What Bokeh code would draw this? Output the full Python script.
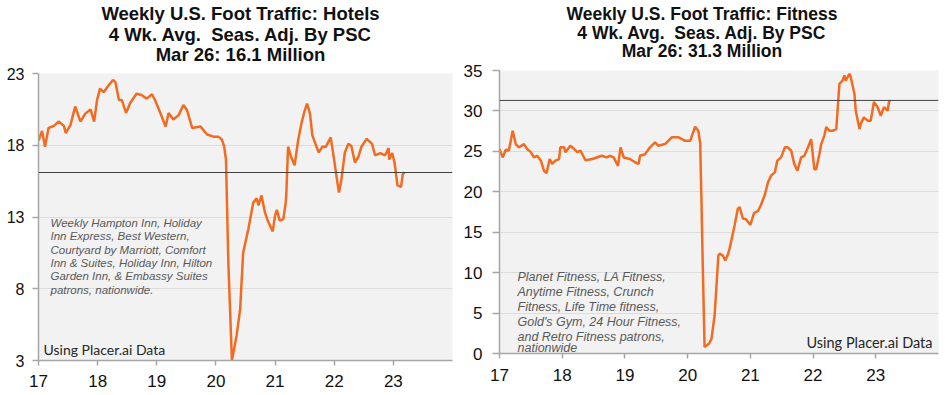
from bokeh.plotting import figure
from bokeh.models import Range1d, FixedTicker, Span, Label
from bokeh.layouts import row, column
from bokeh.embed import file_html
from bokeh.resources import INLINE

# ---------------- data ----------------
years = [17, 18, 19, 20, 21, 22, 23]

hotel_title = ["Weekly U.S. Foot Traffic: Hotels",
               "4 Wk. Avg.\u00a0 Seas. Adj. By PSC",
               "Mar 26: 16.1 Million"]
hotel_ticks = [3, 8, 13, 18, 23]
hotel_latest = 16.1
hotel_year = [17.00, 17.06, 17.11, 17.17, 17.26, 17.34, 17.43, 17.46, 17.54, 17.62,
              17.71, 17.79, 17.88, 17.94, 17.99, 18.04, 18.10, 18.19, 18.26, 18.30,
              18.36, 18.41, 18.48, 18.55, 18.66, 18.74, 18.83, 18.92, 18.97, 19.06,
              19.15, 19.20, 19.28, 19.37, 19.45, 19.51, 19.60, 19.74, 19.85, 19.96,
              20.04, 20.10, 20.14, 20.17, 20.21, 20.27, 20.35, 20.41, 20.46, 20.55,
              20.63, 20.69, 20.72, 20.77, 20.83, 20.88, 20.96, 21.00, 21.03, 21.08,
              21.14, 21.18, 21.19, 21.22, 21.27, 21.33, 21.39, 21.45, 21.50, 21.54,
              21.59, 21.63, 21.70, 21.74, 21.80, 21.86, 21.94, 21.98, 22.04, 22.08,
              22.12, 22.18, 22.24, 22.29, 22.35, 22.41, 22.46, 22.55, 22.64, 22.69,
              22.78, 22.86, 22.92, 22.93, 22.98, 23.02, 23.07, 23.13, 23.16, 23.19]
hotel_value = [18.3, 19.0, 17.9, 19.2, 19.35, 19.65, 19.35, 18.85, 19.4, 20.7,
               19.65, 20.2, 20.5, 19.65, 21.15, 21.95, 21.7, 22.2, 22.55, 22.4,
               21.15, 21.15, 20.25, 20.95, 21.6, 21.5, 21.25, 21.55, 21.15, 20.25,
               19.3, 20.25, 19.8, 20.1, 20.8, 20.45, 19.2, 19.3, 18.75, 18.6,
               18.6, 18.4, 17.9, 17.0, 9.8, 3.0, 4.75, 6.6, 10.5, 12.2,
               14.0, 14.3, 13.8, 14.5, 13.3, 12.7, 12.0, 13.1, 13.5, 12.75,
               12.85, 14.0, 14.6, 17.9, 17.2, 16.6, 18.35, 19.6, 20.4, 20.9,
               20.2, 18.7, 17.9, 17.5, 17.9, 17.9, 18.55, 17.5, 15.8, 14.7,
               15.55, 17.5, 18.1, 17.95, 16.8, 17.2, 17.9, 18.45, 18.1, 17.3,
               17.45, 17.3, 17.8, 17.0, 17.45, 16.8, 15.2, 15.1, 16.0, 16.1]
hotel_note = ["Weekly Hampton Inn, Holiday",
              "Inn Express, Best Western,",
              "Courtyard by Marriott, Comfort",
              "Inn & Suites, Holiday Inn, Hilton",
              "Garden Inn, & Embassy Suites",
              "patrons, nationwide."]

fitness_title = ["Weekly U.S. Foot Traffic: Fitness",
                 "4 Wk. Avg.\u00a0 Seas. Adj. By PSC",
                 "Mar 26: 31.3 Million"]
fitness_ticks = [0, 5, 10, 15, 20, 25, 30, 35]
fitness_latest = 31.3
fitness_year = [17.00, 17.05, 17.10, 17.15, 17.21, 17.26, 17.31, 17.39, 17.44, 17.50,
                17.55, 17.60, 17.66, 17.71, 17.75, 17.80, 17.84, 17.89, 17.95, 17.97,
                18.03, 18.05, 18.13, 18.19, 18.24, 18.29, 18.37, 18.48, 18.63, 18.71,
                18.76, 18.82, 18.89, 18.93, 18.98, 19.08, 19.16, 19.22, 19.24, 19.32,
                19.40, 19.48, 19.53, 19.64, 19.75, 19.85, 19.96, 20.04, 20.12, 20.17,
                20.20, 20.22, 20.24, 20.27, 20.34, 20.38, 20.43, 20.49, 20.51, 20.56,
                20.60, 20.64, 20.67, 20.75, 20.80, 20.83, 20.88, 20.93, 21.00, 21.06,
                21.12, 21.17, 21.23, 21.28, 21.33, 21.39, 21.43, 21.49, 21.55, 21.59,
                21.65, 21.70, 21.75, 21.81, 21.86, 21.92, 21.97, 22.02, 22.05, 22.10,
                22.13, 22.18, 22.21, 22.26, 22.31, 22.37, 22.42, 22.47, 22.50, 22.52,
                22.58, 22.60, 22.66, 22.68, 22.74, 22.76, 22.81, 22.87, 22.92, 22.97,
                23.03, 23.08, 23.13, 23.19, 23.21, 23.23]
fitness_value = [25.3, 24.25, 25.2, 25.1, 27.55, 25.9, 25.5, 25.9, 25.3, 24.9,
                 24.25, 24.45, 23.85, 22.6, 22.3, 24.05, 23.45, 23.85, 24.05, 25.5,
                 25.5, 24.9, 25.7, 25.3, 24.9, 25.1, 23.9, 24.05, 24.45, 24.25,
                 24.45, 24.25, 23.2, 25.5, 24.25, 24.05, 23.65, 23.45, 24.45, 24.65,
                 25.5, 26.1, 25.7, 25.9, 26.75, 26.75, 26.3, 26.3, 28.05, 27.55,
                 26.0, 19.0, 11.3, 0.8, 1.2, 1.8, 4.7, 12.1, 12.35, 12.1,
                 11.5, 12.2, 13.0, 15.9, 17.9, 18.1, 16.7, 16.6, 15.9, 17.4,
                 17.6, 18.4, 19.6, 21.15, 22.0, 22.4, 23.85, 24.25, 25.5, 25.5,
                 25.1, 23.45, 22.6, 24.25, 24.45, 25.5, 26.5, 22.8, 22.8, 24.65,
                 25.9, 26.95, 28.0, 27.55, 27.55, 27.75, 33.35, 33.75, 34.4, 33.75,
                 34.6, 34.2, 32.1, 30.05, 27.75, 28.4, 29.2, 28.8, 28.8, 31.1,
                 30.45, 29.4, 30.45, 30.05, 31.1, 31.3]
fitness_note = ["Planet Fitness, LA Fitness,",
                "Anytime Fitness, Crunch",
                "Fitness, Life Time fitness,",
                "Gold's Gym, 24 Hour Fitness,",
                "and Retro Fitness patrons,",
                "nationwide"]

source_text = "Using Placer.ai Data"

ORANGE = "#F26B21"
AXIS = "#A6A6A6"
FONT = "Liberation Sans"


def header_fig(width, height, lines, cx, ys, size):
    h = figure(width=width, height=height, output_backend="svg", toolbar_location=None,
               x_axis_location=None, y_axis_location=None,
               min_border_left=0, min_border_right=0, min_border_top=0, min_border_bottom=0)
    h.outline_line_color = None
    h.xgrid.grid_line_color = None
    h.ygrid.grid_line_color = None
    h.background_fill_color = "white"
    h.border_fill_color = "white"
    for t, y in zip(lines, ys):
        h.add_layout(Label(x=cx, y=y, x_units="screen", y_units="screen", text=t,
                           text_align="center", text_baseline="alphabetic",
                           text_font=FONT, text_font_style="bold",
                           text_font_size=size, text_color="#111111"))
    return h


def base_fig(width, height, mbl, mbr, mbt, mbb, yr, yticks, tick_out_y, y_standoff,
             y_font, x_standoff, x_font):
    p = figure(width=width, height=height, output_backend="svg", toolbar_location=None,
               x_range=Range1d(17, 24), y_range=yr,
               min_border_left=mbl, min_border_right=mbr,
               min_border_top=mbt, min_border_bottom=mbb)
    p.background_fill_color = "#F2F2F2"
    p.border_fill_color = "white"
    p.outline_line_color = None
    p.xgrid.grid_line_color = None
    p.ygrid.grid_line_color = "#DCDCDC"
    p.ygrid.grid_line_width = 1
    p.yaxis.ticker = FixedTicker(ticks=yticks)
    p.xaxis.ticker = FixedTicker(ticks=years)
    for ax in (p.xaxis[0], p.yaxis[0]):
        ax.axis_line_color = AXIS
        ax.axis_line_width = 1.5
        ax.major_tick_line_color = AXIS
        ax.major_tick_line_width = 1.5
        ax.major_tick_in = 0
        ax.minor_tick_line_color = None
        ax.major_label_text_font = FONT
        ax.major_label_text_color = "#111111"
    p.yaxis.major_tick_out = tick_out_y
    p.yaxis.major_label_standoff = y_standoff
    p.yaxis.major_label_text_font_size = y_font
    p.xaxis.major_tick_out = 5
    p.xaxis.major_label_standoff = x_standoff
    p.xaxis.major_label_text_font_size = x_font
    return p


def add_note(p, lines, x0, ys, size):
    for t, y in zip(lines, ys):
        p.add_layout(Label(x=x0, y=y, x_units="screen", y_units="screen", text=t,
                           text_align="left", text_baseline="alphabetic",
                           text_font=FONT, text_font_style="italic",
                           text_font_size=size, text_color="#595959"))


# ---------------- hotels ----------------
h1 = header_fig(460, 64, hotel_title, 202, [50.7, 29.7, 9.7], "18.5px")
p1 = base_fig(460, 331, 38, 8, 9, 35, Range1d(3, 23), hotel_ticks, 6, 8, "16px", 9, "17px")
p1.line(hotel_year, hotel_value, line_color=ORANGE, line_width=2.5)
p1.add_layout(Span(location=hotel_latest, dimension="width", line_color="#404040", line_width=1))
add_note(p1, hotel_note, 12, [137.7, 124.3, 111, 97.7, 84.3, 71], "11.5px")
p1.add_layout(Label(x=5, y=11, x_units="screen", y_units="screen", text=source_text,
                    text_font="Lato", text_font_size="14px", text_color="#262626",
                    text_baseline="alphabetic"))

# ---------------- fitness ----------------
h2 = header_fig(485, 61, fitness_title, 202.5, [47.7, 28.7, 10.3], "17.5px")
p2 = base_fig(485, 334, 37, 7, 9, 42, Range1d(0, 35), fitness_ticks, 7, 10, "17px", 10, "17px")
p2.line(fitness_year, fitness_value, line_color=ORANGE, line_width=2.5)
p2.add_layout(Span(location=fitness_latest, dimension="width", line_color="#404040", line_width=1))
add_note(p2, fitness_note, 18, [77, 62, 47, 32, 16.3, 5.5], "12.5px")
p2.add_layout(Label(x=433, y=11.3, x_units="screen", y_units="screen", text=source_text,
                    text_font="Lato", text_font_size="14.5px", text_color="#262626",
                    text_align="right", text_baseline="alphabetic"))

layout = row(column(h1, p1), column(h2, p2))
open("out.html", "w").write(file_html(layout, INLINE))
